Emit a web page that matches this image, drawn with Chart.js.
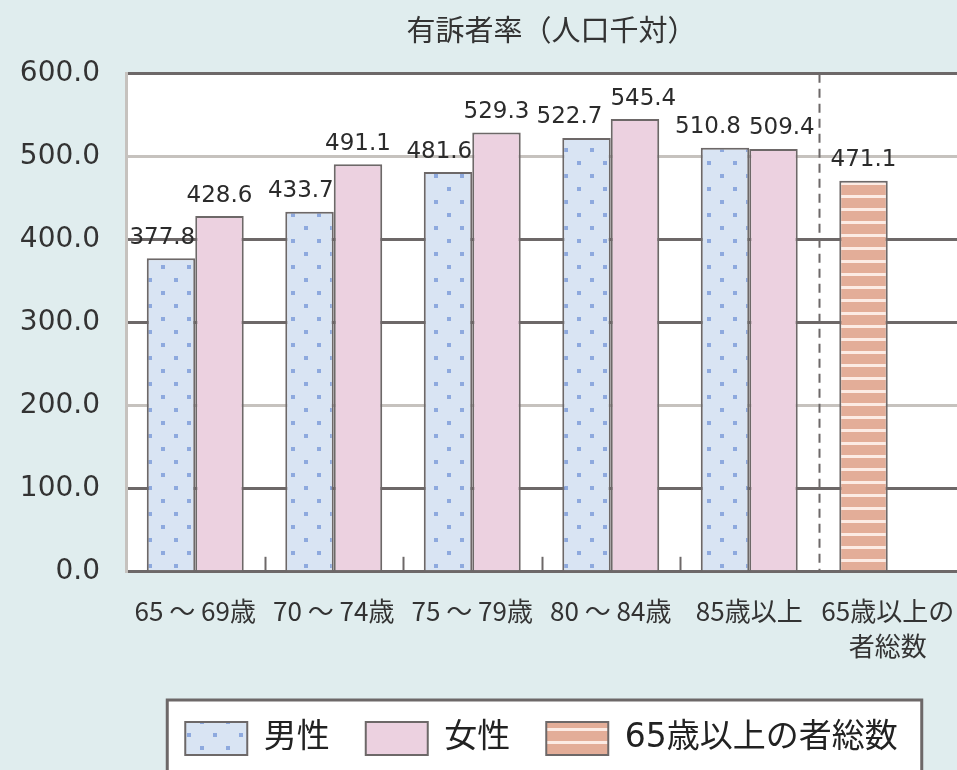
<!DOCTYPE html>
<html lang="ja">
<head>
<meta charset="utf-8">
<title>有訴者率（人口千対）</title>
<script src="https://cdn.jsdelivr.net/npm/chart.js@4.4.1/dist/chart.umd.min.js"></script>
<style>
  html, body { margin: 0; padding: 0; background: #e0edee; }
  #wrap { width: 957px; height: 770px; }
</style>
</head>
<body>
<div id="wrap"><canvas id="myChart" width="957" height="770"></canvas></div>
<script>
'use strict';

// dane wykresu
var categories = ['65 ～ 69歳', '70 ～ 74歳', '75 ～ 79歳', '80 ～ 84歳', '85歳以上', ['65歳以上の', '者総数']];
var maleRates = [377.8, 433.7, 481.6, 522.7, 510.8, null];
var femaleRates = [428.6, 491.1, 529.3, 545.4, 509.4, null];
var totalRates = [null, null, null, null, null, 471.1];
var yTickValues = [0, 100, 200, 300, 400, 500, 600];
var seriesNames = ['男性', '女性', '65歳以上の者総数'];
var lightGridValues = [200, 500];

var DARK = '#6d6868';
var LIGHT = '#c6c2be';
var JP_FONT = '"Noto Sans CJK JP", sans-serif';

var canvas = document.getElementById('myChart');
var ctx = canvas.getContext('2d');

// wzorek w kropki (mężczyźni)
function makeDots() {
  var c = document.createElement('canvas');
  c.width = 26; c.height = 26;
  var g = c.getContext('2d');
  g.fillStyle = '#d9e4f3';
  g.fillRect(0, 0, 26, 26);
  g.fillStyle = '#8ea9de';
  g.fillRect(5, 5, 4, 4);
  g.fillRect(18, 18, 4, 4);
  return ctx.createPattern(c, 'repeat');
}
// wzorek w paski (ogółem)
function makeStripes() {
  var c = document.createElement('canvas');
  c.width = 8; c.height = 13;
  var g = c.getContext('2d');
  g.fillStyle = '#e3ad98';
  g.fillRect(0, 0, 8, 13);
  g.fillStyle = '#fcebe4';
  g.fillRect(0, 0, 8, 3);
  return ctx.createPattern(c, 'repeat');
}

// tło, przesunięcie tytułu i legendy, ramka legendy
var layoutTweaks = {
  id: 'layoutTweaks',
  afterLayout: function(chart) {
    var area = chart.chartArea;
    chart.titleBlock.left = area.left + 10;
    chart.titleBlock.right = area.right + 10;
    chart.legend.left = area.left;
    chart.legend.right = area.right;
  },
  beforeDraw: function(chart) {
    var c = chart.ctx, area = chart.chartArea;
    c.save();
    c.fillStyle = '#ffffff';
    c.fillRect(area.left, area.top, area.right - area.left, area.bottom - area.top);
    var lg = chart.legend, boxes = lg.legendHitBoxes;
    if (boxes && boxes.length) {
      var first = boxes[0], last = boxes[boxes.length - 1];
      var bl = first.left - 18, br = last.left + last.width + 24, bt = lg.top + 14;
      c.fillRect(bl, bt, br - bl, chart.height - bt + 20);
      c.strokeStyle = DARK;
      c.lineWidth = 3;
      c.strokeRect(bl, bt, br - bl, chart.height - bt + 20);
    }
    c.restore();
  }
};

// linia przerywana i krótkie znaczniki między grupami
var separators = {
  id: 'separators',
  afterDatasetsDraw: function(chart) {
    var x = chart.scales.x, area = chart.chartArea, c = chart.ctx;
    c.save();
    c.strokeStyle = DARK;
    c.lineWidth = 2;
    for (var i = 0; i < categories.length - 1; i++) {
      var bx = Math.round((x.getPixelForValue(i) + x.getPixelForValue(i + 1)) / 2) + 0.5;
      c.beginPath();
      if (i === categories.length - 2) {
        c.setLineDash([9, 6]);
        c.moveTo(bx, area.top);
      } else {
        c.setLineDash([]);
        c.moveTo(bx, area.bottom - 15);
      }
      c.lineTo(bx, area.bottom);
      c.stroke();
    }
    c.restore();
  }
};

// etykiety wartości nad słupkami
var barLabels = {
  id: 'barLabels',
  afterDatasetsDraw: function(chart) {
    var c = chart.ctx;
    var seriesData = [maleRates, femaleRates, totalRates];
    c.save();
    c.font = '23px "DejaVu Sans"';
    c.fillStyle = '#2b2b2b';
    c.textBaseline = 'bottom';
    c.textAlign = 'left';
    for (var i = 0; i < categories.length; i++) {
      var items = [];
      for (var d = 0; d < seriesData.length; d++) {
        var v = seriesData[d][i];
        if (v === null) continue;
        var bar = chart.getDatasetMeta(d).data[i];
        var text = v.toFixed(1);
        var w = c.measureText(text).width;
        var left = d === 0 ? bar.x + bar.width / 2 - w : bar.x - w / 2;
        items.push({ text: text, left: left, w: w, y: bar.y - 9 });
      }
      if (items.length === 2) {
        var a = items[0], b = items[1];
        var overlap = a.left + a.w + 8 - b.left;
        if (overlap > 0 && Math.abs(a.y - b.y) < 24) {
          a.left -= overlap / 2;
          b.left += overlap / 2;
        }
      }
      items.forEach(function(it) { c.fillText(it.text, it.left, it.y); });
    }
    c.restore();
  }
};

var chart = new Chart(ctx, {
  type: 'bar',
  data: {
    labels: categories,
    datasets: [{
      label: seriesNames[0],
      data: maleRates,
      backgroundColor: makeDots(),
      borderColor: DARK,
      borderWidth: 2,
      stack: 'a'
    },
    {
      label: seriesNames[1],
      data: femaleRates,
      backgroundColor: '#ecd1e0',
      borderColor: DARK,
      borderWidth: 2,
      stack: 'b'
    },
    {
      label: seriesNames[2],
      data: totalRates,
      backgroundColor: makeStripes(),
      borderColor: DARK,
      borderWidth: 2,
      stack: 'a'
    }]
  },
  options: {
    responsive: false,
    animation: false,
    devicePixelRatio: 1,
    categoryPercentage: 0.7,
    barPercentage: 1,
    layout: { padding: { left: 0, right: 0, top: 0, bottom: 5 } },
    plugins: {
      title: {
        display: true,
        text: '有訴者率（人口千対）',
        color: '#333',
        font: { family: JP_FONT, size: 29, weight: 'normal' },
        padding: { top: 13, bottom: 26 }
      },
      legend: {
        position: 'bottom',
        labels: {
          boxWidth: 62,
          boxHeight: 33,
          padding: 36,
          color: '#222',
          font: { family: '"DejaVu Sans", "Noto Sans CJK JP", sans-serif', size: 33 }
        }
      },
      tooltip: { enabled: false }
    },
    scales: {
      x: {
        stacked: true,
        afterFit: function(scale) { scale.paddingRight = 0; scale.paddingLeft = 0; },
        grid: { display: false, drawTicks: false },
        border: { color: DARK, width: 3 },
        ticks: {
          color: '#333',
          font: { family: JP_FONT, size: 26, lineHeight: 1.35 },
          padding: 22,
          maxRotation: 0,
          autoSkip: false
        }
      },
      y: {
        stacked: true,
        min: 0,
        max: 600,
        afterBuildTicks: function(scale) {
          scale.ticks = yTickValues.map(function(v) { return { value: v }; });
        },
        afterFit: function(scale) { scale.width = 126; },
        grid: {
          drawTicks: false,
          lineWidth: 3,
          color: function(c) {
            return lightGridValues.indexOf(c.tick.value) >= 0 ? LIGHT : DARK;
          }
        },
        border: { color: LIGHT, width: 3 },
        ticks: {
          color: '#333',
          font: { family: '"DejaVu Sans"', size: 28 },
          padding: 26,
          callback: function(v) { return Number(v).toFixed(1); }
        }
      }
    }
  },
  plugins: [layoutTweaks, separators, barLabels]
});
</script>
</body>
</html>
